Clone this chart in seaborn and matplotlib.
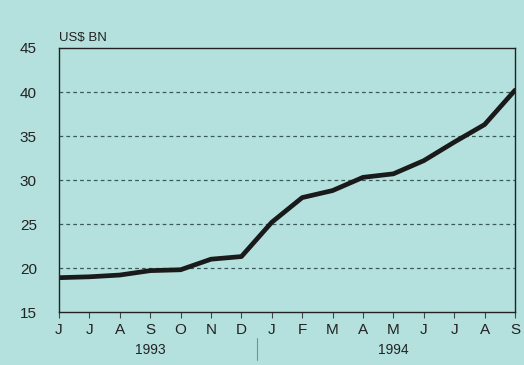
import numpy as np
import pandas as pd
import matplotlib
matplotlib.use("Agg")
import matplotlib.pyplot as plt
import seaborn as sns

# 数据 (US$ BN, 1993-06 .. 1994-09)
months = ["J", "J", "A", "S", "O", "N", "D", "J", "F", "M", "A", "M", "J", "J", "A", "S"]
values = [18.9, 19.0, 19.2, 19.7, 19.8, 21.0, 21.3, 25.2, 28.0, 28.8, 30.3, 30.7, 32.2, 34.3, 36.3, 40.2]
years = ["1993", "1994"]

BG = "#b4e1de"

sns.set_theme(style="white")
plt.rcParams['font.family'] = ['Liberation Sans', 'DejaVu Sans']

df = pd.DataFrame({"idx": np.arange(len(values)), "value": values})

fig = plt.figure(figsize=(5.24, 3.65), dpi=100, facecolor=BG)
ax = fig.add_axes([59 / 524, 1 - 312 / 365, 456 / 524, 264 / 365])
ax.set_facecolor(BG)

sns.lineplot(data=df, x="idx", y="value", ax=ax, color="#1a1a1a", linewidth=3.4)

ax.set_xlim(0, len(values) - 1)
ax.set_ylim(15, 45)
ax.set_yticks(range(15, 46, 5))
ax.set_xticks(range(len(values)))
ax.set_xticklabels(months)
ax.set_xlabel("")
ax.set_ylabel("")

for y in range(20, 45, 5):
    ax.axhline(y, color="#3a5a5a", linestyle=(0, (3, 2.5)), linewidth=0.9, zorder=0)

for s in ax.spines.values():
    s.set_color("#222222")
    s.set_linewidth(1.0)

ax.tick_params(axis="x", bottom=True, length=4, width=0.8, color="#444444",
               labelsize=11, pad=4, labelcolor="#222222")
ax.tick_params(axis="y", left=False, labelsize=11, pad=10, labelcolor="#222222")

ax.text(0.0, 1.015, "US$ BN", transform=ax.transAxes, ha="left", va="bottom",
        fontsize=9.5, color="#222222")

# 年份标签
trans = ax.get_xaxis_transform()
ax.text(3, -0.145, years[0], transform=trans, ha="center", va="center", fontsize=10, color="#222222")
ax.text(11, -0.145, years[1], transform=trans, ha="center", va="center", fontsize=10, color="#222222")
ax.plot([6.5, 6.5], [-0.1, -0.18], transform=trans, color="#888888", linewidth=0.8, clip_on=False)

fig.savefig("out.png", dpi=100, facecolor=BG)
